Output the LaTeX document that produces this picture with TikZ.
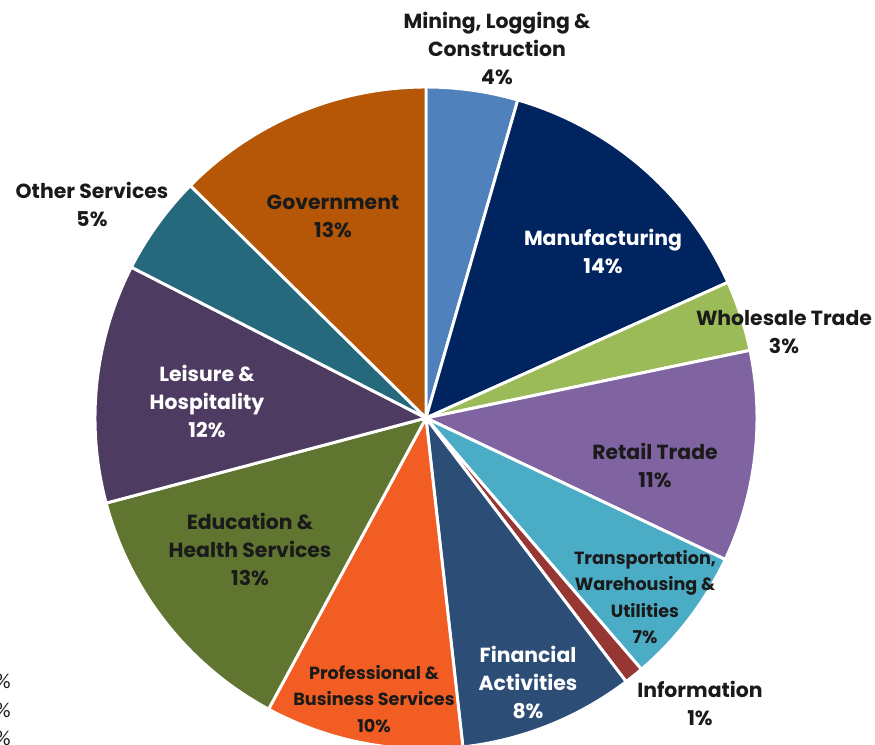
\documentclass[tikz,border=0pt]{standalone}
\usepackage{fontspec}
\setmainfont{Poppins}
\newfontfamily\calfont{Carlito}

\definecolor{cMining}{RGB}{79,129,189}
\definecolor{cManuf}{RGB}{0,36,96}
\definecolor{cWhole}{RGB}{155,187,89}
\definecolor{cRetail}{RGB}{128,100,162}
\definecolor{cTrans}{RGB}{75,172,198}
\definecolor{cInfo}{RGB}{150,55,52}
\definecolor{cFin}{RGB}{44,77,117}
\definecolor{cProf}{RGB}{241,93,34}
\definecolor{cEdu}{RGB}{95,117,48}
\definecolor{cLeis}{RGB}{77,59,98}
\definecolor{cOther}{RGB}{38,104,124}
\definecolor{cGov}{RGB}{182,87,8}
\definecolor{darktext}{RGB}{26,26,26}

\begin{document}
\begin{tikzpicture}[x=0.75pt, y=-0.75pt,
  lbl/.style={align=center, inner sep=0pt, text=darktext,
    font=\fontsize{15.3}{21}\selectfont\bfseries},
  lblw/.style={lbl, text=white},
  lblsmall/.style={lbl, font=\fontsize{13.2}{19.6}\selectfont\bfseries},
  frag/.style={anchor=east, inner sep=0pt, text=darktext,
    font=\calfont\fontsize{16}{16}\selectfont}]
\useasboundingbox (0,0) rectangle (875,744);

% pie slices, angles clockwise from the top minus 90
\coordinate (ctr) at (426,418);
\foreach \a/\b/\c in {-90/-73.9/cMining, -73.9/-24.2/cManuf, -24.2/-11.8/cWhole,
    -11.8/25.3/cRetail, 25.3/49.4/cTrans, 49.4/52.8/cInfo, 52.8/83.6/cFin,
    83.6/118.4/cProf, 118.4/165.1/cEdu, 165.1/207.1/cLeis, 207.1/224.6/cOther,
    224.6/270/cGov}
  \filldraw[fill=\c, draw=white, line width=2.2pt, line join=round]
    (ctr) -- ++(\a:331) arc (\a:\b:331) -- cycle;

% labels
\node[lbl] (mining) at (497,48) {Mining, Logging \&\\Construction\\4\%};
\node[lblw] (manuf) at (603,251) {Manufacturing\\14\%};
\node[lbl] (whole) at (784,332) {Wholesale Trade\\3\%};
\node[lbl] (retail) at (655,465) {Retail Trade\\11\%};
\node[lblsmall] (trans) at (645,597) {Transportation,\\Warehousing \&\\Utilities\\7\%};
\node[lbl] (info) at (700,703) {Information\\1\%};
\node[lblw] (fin) at (528,682) {Financial\\Activities\\8\%};
\node[lblsmall] (prof) at (374,699) {Professional \&\\Business Services\\10\%};
\node[lbl] (edu) at (250,549) {Education \&\\Health Services\\13\%};
\node[lblw] (leis) at (207,401) {Leisure \&\\Hospitality\\12\%};
\node[lbl] (other) at (92,204) {Other Services\\5\%};
\node[lbl] (gov) at (333,216) {Government\\13\%};

% cut-off text at the left edge
\node[frag] (fragA) at (11,681) {\%};
\node[frag] (fragB) at (11,710) {\%};
\node[frag] (fragC) at (11,738) {\%};
\end{tikzpicture}
\end{document}
